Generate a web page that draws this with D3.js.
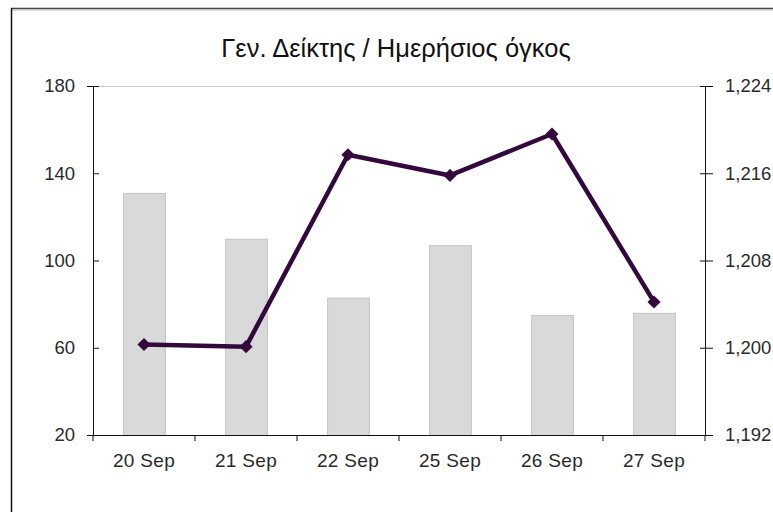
<!DOCTYPE html>
<html>
<head>
<meta charset="utf-8">
<script src="https://cdn.jsdelivr.net/npm/d3@7"></script>
<style>
  body { margin: 0; background: #fff; }
  text { font-family: "Liberation Sans", Arial, sans-serif; fill: #222; }
</style>
</head>
<body>
<div id="chart"></div>
<script>
var days = ["20 Sep", "21 Sep", "22 Sep", "25 Sep", "26 Sep", "27 Sep"];
var volume = [131, 110, 83, 107, 75, 76];
var index = [1200.3, 1200.1, 1217.7, 1215.8, 1219.6, 1204.2];
var leftTicks = [20, 60, 100, 140, 180];
var rightTicks = [1192, 1200, 1208, 1216, 1224];

var W = 773, H = 512;
var margin = { left: 93, right: 68, top: 86, bottom: 77 };
var width = W - margin.left - margin.right,
    height = H - margin.top - margin.bottom;

var root = d3.select("#chart").append("svg")
    .attr("width", W)
    .attr("height", H);

// outer frame (only top and left visible)
root.append("line").attr("x1", 11).attr("x2", W).attr("y1", 8.5).attr("y2", 8.5)
    .attr("stroke", "#444").attr("stroke-width", 1.5);
root.append("line").attr("x1", 11).attr("x2", W).attr("y1", 10).attr("y2", 10)
    .attr("stroke", "#bbb").attr("stroke-width", 1);
root.append("line").attr("x1", 11.5).attr("x2", 11.5).attr("y1", 8).attr("y2", H)
    .attr("stroke", "#111").attr("stroke-width", 1.5);

root.append("text")
    .attr("x", 396)
    .attr("y", 57)
    .attr("text-anchor", "middle")
    .attr("font-size", "25.5px")
    .style("fill", "#111")
    .text("Γεν. Δείκτης / Ημερήσιος όγκος");

var svg = root.append("g")
    .attr("transform", "translate(" + margin.left + "," + margin.top + ")");

var x = d3.scaleBand().domain(days).range([0, width]).paddingInner(0.59).paddingOuter(0.295);
var xOuter = d3.scaleBand().domain(days).range([0, width]);
var yLeft = d3.scaleLinear().domain([20, 180]).range([height, 0]);
var yRight = d3.scaleLinear().domain([1192, 1224]).range([height, 0]);

// top border of plot area
svg.append("line")
    .attr("x1", 0).attr("x2", width)
    .attr("y1", 0.5).attr("y2", 0.5)
    .attr("stroke", "#c8c8c8");

svg.selectAll(".bar")
    .data(volume)
    .enter()
    .append("rect")
    .attr("class", "bar")
    .attr("x", function(d, i) { return x(days[i]) + 0.5; })
    .attr("y", function(d) { return yLeft(d) + 0.5; })
    .attr("width", x.bandwidth())
    .attr("height", function(d) { return height - yLeft(d); })
    .style("fill", "#d9d9d9")
    .style("stroke", "#c4c4c4");

// axes
var leftAxis = svg.append("g")
    .attr("class", "y axis")
    .call(d3.axisLeft(yLeft).tickValues(leftTicks).tickSize(6).tickPadding(12));
leftAxis.selectAll(".tick line").attr("x2", 6);

var rightAxis = svg.append("g")
    .attr("transform", "translate(" + width + ",0)")
    .call(d3.axisRight(yRight).tickValues(rightTicks).tickSize(8).tickPadding(12).tickFormat(d3.format(",")));
rightAxis.selectAll(".tick line").attr("x1", -5);

var bottomAxis = svg.append("g")
    .attr("transform", "translate(0," + height + ")")
    .call(d3.axisBottom(xOuter).tickSize(0).tickPadding(19));

// category separator ticks
svg.append("g")
    .selectAll("line")
    .data(d3.range(days.length + 1))
    .enter()
    .append("line")
    .attr("x1", function(i) { return i * xOuter.step(); })
    .attr("x2", function(i) { return i * xOuter.step(); })
    .attr("y1", height)
    .attr("y2", height + 6)
    .attr("stroke", "#111");

[leftAxis, rightAxis, bottomAxis].forEach(function(a) {
    a.select(".domain").attr("stroke", "#111");
    a.selectAll(".tick line").attr("stroke", "#111");
    a.selectAll("text").attr("font-size", "18.5px").style("fill", "#2a2a2a")
        .attr("font-family", "'Liberation Sans', Arial, sans-serif");
});
bottomAxis.selectAll("text").attr("font-size", "19px").attr("letter-spacing", "0.3px");

var lineGen = d3.line()
    .x(function(d, i) { return xOuter(days[i]) + xOuter.bandwidth() / 2; })
    .y(function(d) { return yRight(d); });

svg.append("path")
    .datum(index)
    .attr("d", lineGen)
    .attr("fill", "none")
    .attr("stroke", "#33093d")
    .attr("stroke-width", 4.5)
    .attr("stroke-linejoin", "round");

svg.selectAll(".pt")
    .data(index)
    .enter()
    .append("path")
    .attr("class", "pt")
    .attr("d", d3.symbol().type(d3.symbolDiamond2).size(110))
    .attr("transform", function(d, i) {
        return "translate(" + (xOuter(days[i]) + xOuter.bandwidth() / 2) + "," + yRight(d) + ")";
    })
    .style("fill", "#33093d");
</script>
</body>
</html>
